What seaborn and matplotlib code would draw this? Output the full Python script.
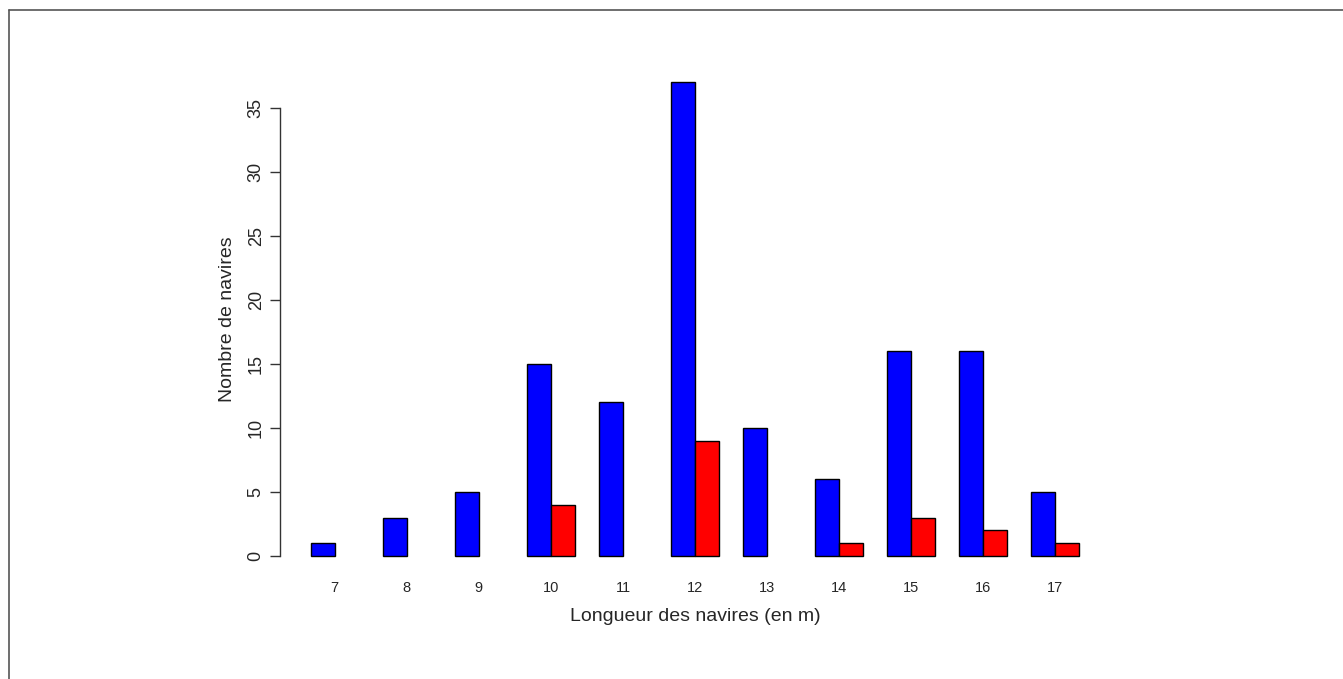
import matplotlib
matplotlib.use("Agg")
import matplotlib.pyplot as plt
from matplotlib.lines import Line2D
import seaborn as sns
import pandas as pd

longueurs = ["7", "8", "9", "10", "11", "12", "13", "14", "15", "16", "17"]
navires_bleu = [1, 3, 5, 15, 12, 37, 10, 6, 16, 16, 5]
navires_rouge = [None, None, None, 4, None, 9, None, 1, 3, 2, 1]

rows = []
for lg, b, r in zip(longueurs, navires_bleu, navires_rouge):
    rows.append({"longueur": lg, "groupe": "A", "n": b})
    rows.append({"longueur": lg, "groupe": "B", "n": r})
df = pd.DataFrame(rows).dropna()

sns.set_style("white")
plt.rcParams['font.family'] = ['Liberation Sans', 'DejaVu Sans']

fig = plt.figure(figsize=(13.43, 6.79), dpi=100)
ax = fig.add_axes([280 / 1343, 1 - 575 / 679, (1110 - 280) / 1343, (575 - 63.5) / 679])

sns.barplot(data=df, x="longueur", y="n", hue="groupe", order=longueurs,
            hue_order=["A", "B"], palette=["#0000FF", "#FF0000"],
            width=2 / 3, edgecolor="black", linewidth=1, saturation=1,
            errorbar=None, legend=False, ax=ax)

ax.set_xlim(-0.76, 10.76)
ax.set_ylim(-1.48, 38.48)
ax.set_yticks([0, 5, 10, 15, 20, 25, 30, 35])
ax.set_yticklabels(["0", "5", "10", "15", "20", "25", "30", "35"],
                   rotation=90, va="center", fontsize=13)
ax.tick_params(axis="y", left=True, length=7, width=1, color="#333333", pad=4)
ax.tick_params(axis="x", bottom=False, labelsize=10.5, pad=0.5)
for s in ["top", "right", "bottom"]:
    ax.spines[s].set_visible(False)
ax.spines["left"].set_bounds(0, 35)
ax.spines["left"].set_color("#333333")
ax.spines["left"].set_linewidth(1)

ax.set_xlabel("Longueur des navires (en m)", fontsize=14, labelpad=10)
ax.set_ylabel("Nombre de navires", fontsize=14, labelpad=8.5)

# cadre de la figure (bords gauche et haut visibles)
fig.add_artist(Line2D([8.5 / 1343, 8.5 / 1343], [0, 1 - 10 / 679],
                      transform=fig.transFigure, color="#555555", lw=1.2))
fig.add_artist(Line2D([8.5 / 1343, 1], [1 - 10 / 679, 1 - 10 / 679],
                      transform=fig.transFigure, color="#555555", lw=1.2))

fig.savefig("out.png", dpi=100)
